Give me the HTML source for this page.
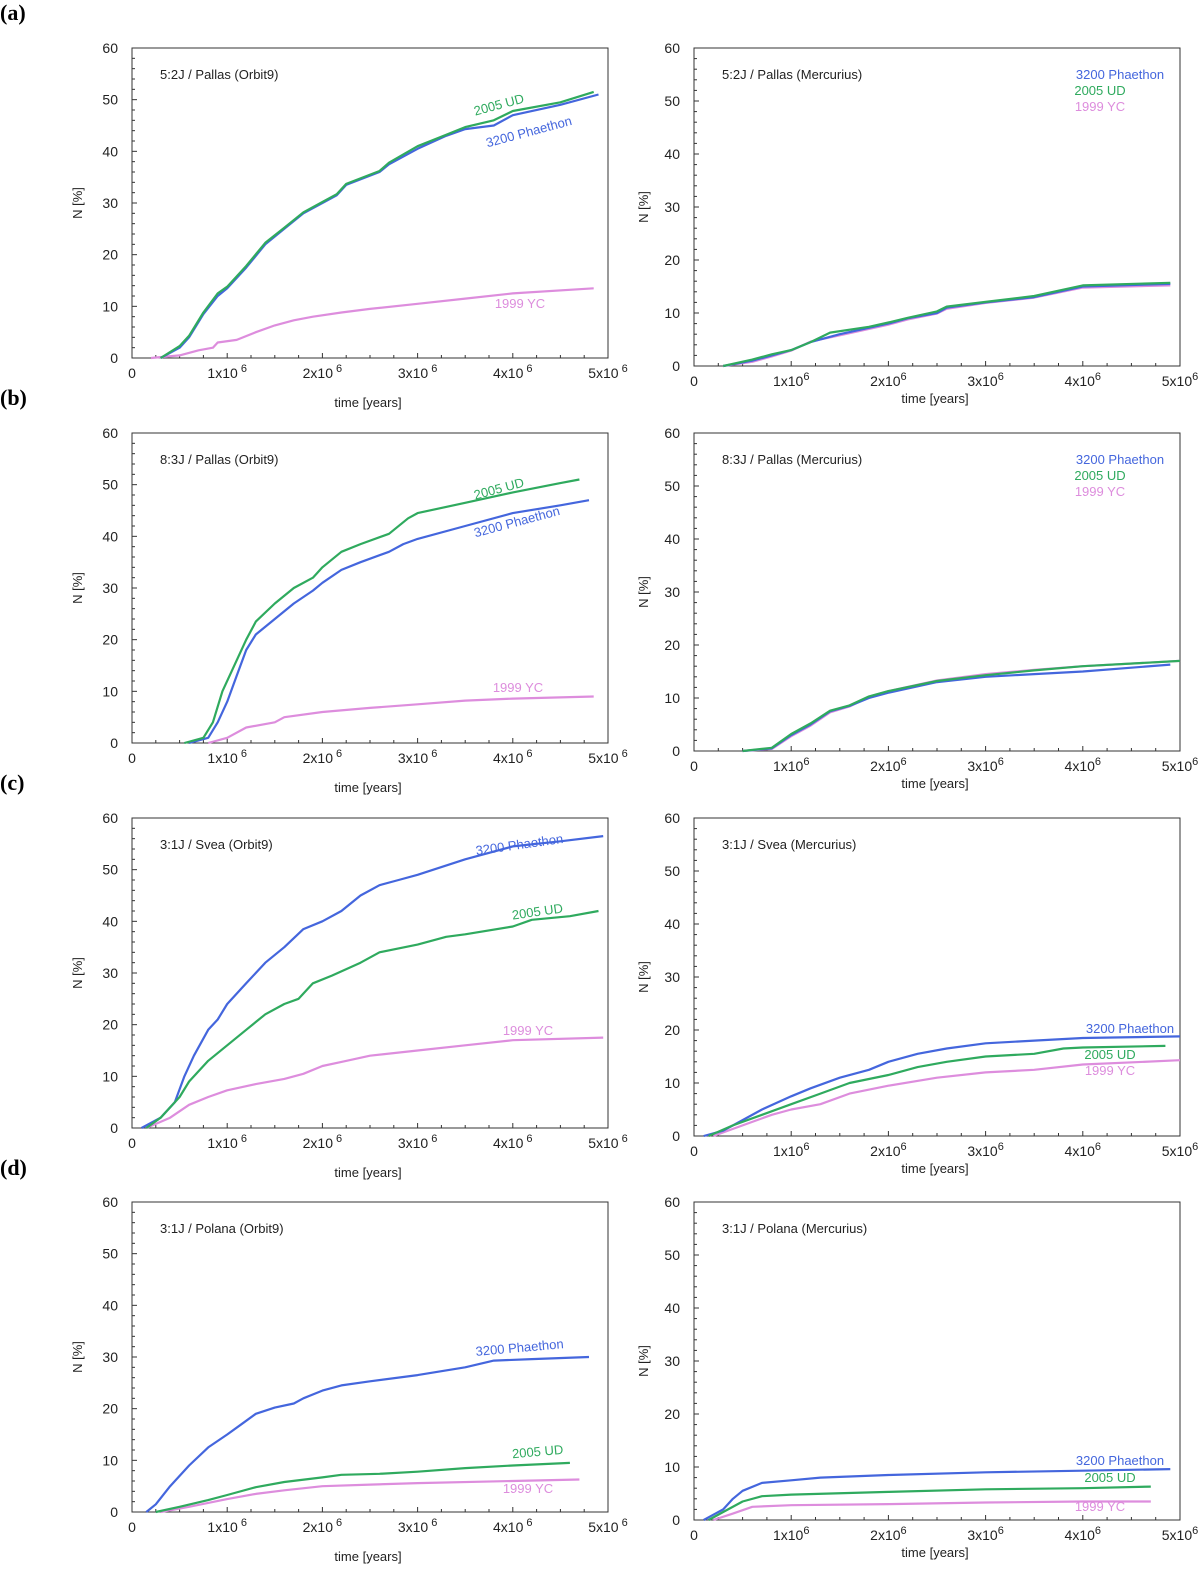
<!DOCTYPE html>
<html><head><meta charset="utf-8"><style>
body{margin:0;background:#fff;width:1200px;height:1564px;overflow:hidden}
svg text{font-family:"Liberation Sans",sans-serif}
</style></head><body>
<svg id="fig" width="1200" height="1564" xmlns="http://www.w3.org/2000/svg"></svg>
<script>
// ---- data: [time (10^6 yr), N (%)] ----
const xTicks = [0,1,2,3,4,5];
const yTicks = [0,10,20,30,40,50,60];
const panelTitles = ["5:2J / Pallas (Orbit9)","5:2J / Pallas (Mercurius)","8:3J / Pallas (Orbit9)","8:3J / Pallas (Mercurius)","3:1J / Svea (Orbit9)","3:1J / Svea (Mercurius)","3:1J / Polana (Orbit9)","3:1J / Polana (Mercurius)"];
const rowLabels = ["(a)","(b)","(c)","(d)"];

const aL_blue=[[0.3,0],[0.5,2],[0.6,4],[0.75,8.5],[0.9,12],[1.0,13.5],[1.2,17.5],[1.4,22],[1.6,25],[1.8,28],[2.0,30],[2.15,31.5],[2.25,33.5],[2.6,36],[2.7,37.5],[3.0,40.5],[3.3,43],[3.5,44.3],[3.8,45],[4.0,47],[4.5,49],[4.9,51]];
const aL_green=[[0.3,0],[0.5,2.3],[0.6,4.3],[0.75,8.8],[0.9,12.5],[1.0,13.8],[1.2,17.8],[1.4,22.3],[1.6,25.2],[1.8,28.2],[2.0,30.2],[2.15,31.7],[2.25,33.7],[2.6,36.2],[2.7,37.8],[3.0,41],[3.3,43.2],[3.5,44.7],[3.8,46],[4.0,47.8],[4.5,49.5],[4.85,51.5]];
const aL_pink=[[0.2,0],[0.5,0.5],[0.7,1.5],[0.85,2],[0.9,3],[1.1,3.5],[1.3,5],[1.5,6.3],[1.7,7.3],[1.9,8],[2.2,8.8],[2.5,9.5],[3,10.5],[3.5,11.5],[4,12.5],[4.85,13.5]];

const aR_blue=[[0.3,0],[0.6,1],[0.8,2],[1.0,3],[1.2,4.5],[1.5,6],[1.8,7.2],[2.0,8],[2.2,9],[2.5,10],[2.6,11],[3,12],[3.5,13],[4,15],[4.9,15.5]];
const aR_green=[[0.3,0],[0.6,1.2],[0.8,2.2],[1.0,3],[1.2,4.5],[1.4,6.3],[1.8,7.4],[2.0,8.2],[2.2,9.1],[2.5,10.3],[2.6,11.2],[3,12.1],[3.5,13.2],[4,15.2],[4.9,15.7]];
const aR_pink=[[0.3,0],[0.6,0.8],[0.8,1.8],[1.0,2.9],[1.2,4.6],[1.5,5.8],[1.8,7],[2.0,7.8],[2.2,8.8],[2.5,9.9],[2.6,10.8],[3,11.9],[3.5,12.9],[4,14.8],[4.9,15.2]];

const bL_blue=[[0.6,0],[0.8,1],[0.9,4],[1.0,8],[1.1,13],[1.2,18],[1.3,21],[1.5,24],[1.7,27],[1.9,29.5],[2.0,31],[2.2,33.5],[2.4,35],[2.7,37],[2.85,38.5],[3.0,39.5],[3.5,42],[4.0,44.5],[4.5,46],[4.8,47]];
const bL_green=[[0.55,0],[0.75,1],[0.85,4],[0.95,10],[1.1,16],[1.2,20],[1.3,23.5],[1.5,27],[1.7,30],[1.9,32],[2.0,34],[2.2,37],[2.4,38.5],[2.7,40.5],[2.9,43.5],[3.0,44.5],[3.5,46.5],[4.0,48.5],[4.5,50.3],[4.7,51]];
const bL_pink=[[0.8,0],[1.0,1],[1.2,3],[1.5,4],[1.6,5],[2,6],[2.5,6.8],[3,7.5],[3.5,8.2],[4,8.6],[4.85,9]];

const bR_blue=[[0.5,0],[0.8,0.5],[1.0,3],[1.2,5],[1.4,7.5],[1.6,8.5],[1.8,10],[2,11],[2.5,13],[3,14],[3.5,14.5],[4,15],[4.9,16.3]];
const bR_green=[[0.5,0],[0.8,0.6],[1.0,3.2],[1.2,5.2],[1.4,7.6],[1.6,8.6],[1.8,10.3],[2,11.3],[2.5,13.2],[3,14.3],[3.5,15.2],[4,16],[5,17]];
const bR_pink=[[0.5,0],[0.8,0.4],[1.0,2.8],[1.2,4.8],[1.4,7.3],[1.6,8.4],[1.8,10.2],[2,11.3],[2.5,13.3],[3,14.5],[3.5,15.3],[4,16],[5,17]];

const cL_blue=[[0.1,0],[0.3,2],[0.45,5],[0.55,10],[0.65,14],[0.8,19],[0.9,21],[1.0,24],[1.2,28],[1.4,32],[1.6,35],[1.8,38.5],[2.0,40],[2.2,42],[2.4,45],[2.6,47],[2.8,48],[3,49],[3.5,52],[4,54.5],[4.5,55.5],[4.95,56.5]];
const cL_green=[[0.15,0],[0.3,2],[0.5,6],[0.6,9],[0.8,13],[1.0,16],[1.2,19],[1.4,22],[1.6,24],[1.75,25],[1.9,28],[2.1,29.5],[2.4,32],[2.6,34],[3.0,35.5],[3.3,37],[3.5,37.5],[4.0,39],[4.2,40.3],[4.6,41],[4.9,42]];
const cL_pink=[[0.15,0],[0.4,2],[0.6,4.5],[0.8,6],[1.0,7.3],[1.3,8.5],[1.6,9.5],[1.8,10.5],[2.0,12],[2.2,12.8],[2.5,14],[3,15],[3.5,16],[4,17],[4.95,17.5]];

const cR_blue=[[0.1,0],[0.3,1],[0.5,3],[0.7,5],[1.0,7.5],[1.2,9],[1.5,11],[1.8,12.5],[2,14],[2.3,15.5],[2.6,16.5],[3,17.5],[3.5,18],[4,18.5],[5,18.8]];
const cR_green=[[0.15,0],[0.4,2],[0.7,4],[1.0,6],[1.3,8],[1.6,10],[2,11.5],[2.3,13],[2.6,14],[3,15],[3.5,15.5],[3.8,16.5],[4,16.7],[4.85,17]];
const cR_pink=[[0.2,0],[0.5,2],[0.8,4],[1.0,5],[1.3,6],[1.6,8],[2,9.5],[2.5,11],[3,12],[3.5,12.5],[4,13.5],[5,14.3]];

const dL_blue=[[0.15,0],[0.25,1.5],[0.4,5],[0.6,9],[0.8,12.5],[1.0,15],[1.15,17],[1.3,19],[1.5,20.2],[1.7,21],[1.8,22],[2,23.5],[2.2,24.5],[2.5,25.3],[3,26.5],[3.5,28],[3.8,29.3],[4.2,29.6],[4.8,30]];
const dL_green=[[0.25,0],[0.5,1],[0.8,2.3],[1.0,3.3],[1.3,4.8],[1.6,5.8],[2,6.7],[2.2,7.2],[2.6,7.4],[3,7.8],[3.5,8.5],[4,9],[4.6,9.5]];
const dL_pink=[[0.3,0],[0.6,1],[1.0,2.5],[1.3,3.5],[1.6,4.2],[2,5],[2.5,5.3],[3,5.6],[4,6],[4.7,6.3]];

const dR_blue=[[0.1,0],[0.2,1],[0.3,2],[0.4,4],[0.5,5.5],[0.7,7],[1.0,7.5],[1.3,8],[2,8.5],[3,9],[4,9.3],[4.9,9.6]];
const dR_green=[[0.15,0],[0.3,1.5],[0.5,3.5],[0.7,4.5],[1.0,4.8],[2,5.3],[3,5.8],[4,6],[4.7,6.3]];
const dR_pink=[[0.2,0],[0.4,1.2],[0.6,2.5],[1,2.8],[2,3],[3,3.3],[4,3.5],[4.7,3.5]];

const seriesNames=["3200 Phaethon","2005 UD","1999 YC"];
const colors=["#4466dd","#2faa5e","#dd8ddd"];
const panelData=[[aL_blue,aL_green,aL_pink],[aR_blue,aR_green,aR_pink],[bL_blue,bL_green,bL_pink],[bR_blue,bR_green,bR_pink],[cL_blue,cL_green,cL_pink],[cR_blue,cR_green,cR_pink],[dL_blue,dL_green,dL_pink],[dR_blue,dR_green,dR_pink]];
const labelPos=[
 [[530,136,-15],[500,109,-15],[520,308,0]],
 [[1120,79,0],[1100,95,0],[1100,111,0]],
 [[518,526,-15],[500,493,-15],[518,692,0]],
 [[1120,464,0],[1100,480,0],[1100,496,0]],
 [[520,849,-8],[538,916,-8],[528,1035,0]],
 [[1130,1033,0],[1110,1059,0],[1110,1075,0]],
 [[520,1352,-5],[538,1456,-5],[528,1493,0]],
 [[1120,1465,0],[1110,1482,0],[1100,1511,0]]
];

const NS="http://www.w3.org/2000/svg";
const svg=document.getElementById('fig');
function mk(tag,attrs,parent){const e=document.createElementNS(NS,tag);for(const k in attrs)e.setAttribute(k,attrs[k]);(parent||svg).appendChild(e);return e;}

rowLabels.forEach((t,i)=>{
 const e=mk('text',{x:0,y:20+i*385,'font-size':22,'font-weight':'bold',style:'font-family:"Liberation Serif",serif'});
 
 
 e.textContent=t;
});

for(let p=0;p<8;p++){
 const row=Math.floor(p/2), right=p%2===1;
 const off=[0,385,770,1154][row];
 const x0=right?694:132, x1=right?1180:608;
 const y0=48+off, y1=off+(right?366:358);
 const X=v=>x0+(x1-x0)*v/5, Y=v=>y1-(y1-y0)*v/60;
 const g=mk('g',{});
 
 
 const fr=mk('rect',{x:x0,y:y0,width:x1-x0,height:y1-y0,fill:'none',stroke:'#333','stroke-width':1},g);
 
 
 for(let v=0;v<=60;v+=2){const len=v%10===0?5:3;mk('line',{x1:x0,x2:x0+len,y1:Y(v),y2:Y(v),stroke:'#333'},g);}
 for(let v=0;v<=5;v+=0.25){const len=Math.abs(v-Math.round(v))<1e-6?5:3;mk('line',{x1:X(v),x2:X(v),y1:y1,y2:y1-len,stroke:'#333'},g);}
 yTicks.forEach(v=>{const t=mk('text',{x:x0-14,y:Y(v)+5,'font-size':14,'text-anchor':'end',fill:'#222'},g);
  
  
  t.textContent=v;});
 xTicks.forEach(v=>{const t=mk('text',{x:X(v),y:y1+20,'font-size':14,'text-anchor':'middle',fill:'#222'},g);
  
  
  if(v===0)t.textContent='0';else{t.textContent=v+'x10';const s=mk('tspan',{dy:-6,'font-size':11},t);s.textContent=right?'6':' 6';}});
 const yt=mk('text',{x:0,y:0,'font-size':13,'text-anchor':'middle',transform:`translate(${right?648:82},${(y0+y1)/2}) rotate(-90)`,fill:'#222'},g);
 
 
 yt.textContent='N [%]';
 const xt=mk('text',{x:(x0+x1)/2-2,y:y1+(right?37:49),'font-size':13,'text-anchor':'middle',fill:'#222'},g);
 
 
 xt.textContent='time [years]';
 const tt=mk('text',{x:x0+28,y:y0+31,'font-size':13,fill:'#222'},g);
 
 
 tt.textContent=panelTitles[p];
 const order=[2,0,1];
 order.forEach(s=>{
  const pts=panelData[p][s].map(d=>X(d[0]).toFixed(1)+','+Y(d[1]).toFixed(1)).join(' ');
  const l=mk('polyline',{points:pts,fill:'none',stroke:colors[s],'stroke-width':2.2,'stroke-linejoin':'round'},g);
  
  
 });
 for(let s=0;s<3;s++){
  const lp=labelPos[p][s];
  const t=mk('text',{x:lp[0],y:lp[1],'font-size':13,'text-anchor':'middle',fill:colors[s],transform:`rotate(${lp[2]} ${lp[0]} ${lp[1]})`},g);
  
  
  t.textContent=seriesNames[s];
 }
}
</script>
</body></html>
